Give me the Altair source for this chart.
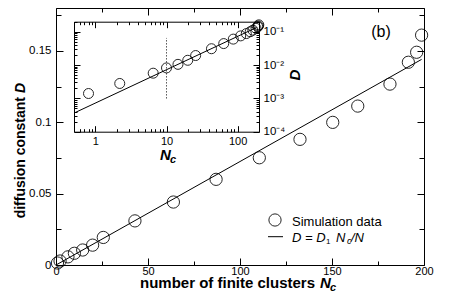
import altair as alt
import pandas as pd

# ---- data ----
nc = [0.8, 2.2, 6.5, 10, 14.5, 19.9, 25.7, 42.9, 63.8, 87, 110.5, 132.6,
      150.4, 164, 181.5, 191.5, 196, 198.7]
dc = [0.0014, 0.0028, 0.0057, 0.0082, 0.0105, 0.0139, 0.0193, 0.0309, 0.0441,
      0.060, 0.0751, 0.088, 0.0999, 0.1113, 0.1267, 0.142, 0.149, 0.161]
fit_nc_main = [0, 198.7]
fit_d_main = [0, 0.144]
fit_nc_inset = [0.5, 185]
fit_d_inset = [0.000362, 0.134]
guide_nc = [10, 10]
guide_d = [0.001, 0.065]

x_major = [0, 50, 100, 150, 200]
x_all = [0, 25, 50, 75, 100, 125, 150, 175, 200]
y_major = [0, 0.05, 0.1, 0.15]
y_all = [0, 0.025, 0.05, 0.075, 0.1, 0.125, 0.15, 0.175]
ix_major = [1, 10, 100]
ix_all = [0.5, 0.6, 0.7, 0.8, 0.9] + [m * 10 ** p for p in (0, 1) for m in range(1, 10)] + [100, 200]
iy_major = [1e-4, 1e-3, 1e-2, 1e-1]
iy_all = [m * 10 ** p for p in (-4, -3, -2) for m in range(1, 10)] + [0.1, 0.2]

FONT = "Liberation Sans"
W, H = 368, 257
IX0, IX1 = 18, 203
IY0, IY1 = 13.7, 123.7

pts = pd.DataFrame({"nc": nc, "D": dc})
fit_main = pd.DataFrame({"nc": fit_nc_main, "D": fit_d_main})
fit_inset = pd.DataFrame({"nc": fit_nc_inset, "D": fit_d_inset})
guide = pd.DataFrame({"nc": guide_nc, "D": guide_d})
one = pd.DataFrame({"a": [0]})

LIN_X_TEST = "datum.value % 50 == 0"
LIN_Y_TEST = "abs(datum.value*20 - round(datum.value*20)) < 0.01"
LOG_TEST = "abs(log(datum.value)/LN10 - round(log(datum.value)/LN10)) < 0.001"


def tick_axis(orient, offset, values, test, major, minor):
    return alt.Axis(orient=orient, offset=offset, values=values, labels=False,
                    title=None, grid=False, domain=True, domainColor="black",
                    domainWidth=1, ticks=True, tickColor="black", tickWidth=1,
                    tickSize={"condition": {"test": test, "value": major}, "value": minor})


def label_axis(orient, offset, values, pad, size=11.5, fmt=None, expr=None):
    kw = dict(orient=orient, offset=offset, values=values, ticks=False, tickSize=0,
              domain=False, grid=False, title=None, labelFont=FONT,
              labelFontSize=size, labelColor="black", labelPadding=pad,
              labelFlush=False, labelOverlap=False)
    if fmt is not None:
        kw["format"] = fmt
    if expr is not None:
        kw["labelExpr"] = expr
    return alt.Axis(**kw)


def mx(axis):
    return alt.X("nc:Q", scale=alt.Scale(domain=[0, 200], nice=False, zero=False), axis=axis)


def my(axis):
    return alt.Y("D:Q", scale=alt.Scale(domain=[0, 0.18], nice=False, zero=False), axis=axis)


def ix(axis):
    return alt.X("nc:Q", scale=alt.Scale(type="log", domain=[0.5, 200], range=[IX0, IX1], nice=False), axis=axis)


def iy(axis):
    return alt.Y("D:Q", scale=alt.Scale(type="log", domain=[1e-4, 0.2], range=[IY1, IY0], nice=False), axis=axis)


# ---- main plot ----
main_pts = alt.Chart(pts).mark_point(shape="circle", size=150, filled=False, color="black",
                                     strokeWidth=1, opacity=0.85).encode(
    x=mx(label_axis("bottom", 0, x_major, 0, size=11, fmt="d")),
    y=my(label_axis("left", 0, y_major, 5, fmt="~g")),
)
main_line = alt.Chart(fit_main).mark_line(color="black", strokeWidth=1).encode(x="nc:Q", y="D:Q")
M = alt.layer(main_pts, main_line)

A = alt.Chart(pts).mark_point(opacity=0).encode(
    x=mx(tick_axis("top", -H, x_all, LIN_X_TEST, 7, 4)),
    y=my(tick_axis("right", -W, y_all, LIN_Y_TEST, 7, 5)),
)
B = alt.Chart(pts).mark_point(opacity=0).encode(
    x=mx(tick_axis("bottom", -H, x_all, LIN_X_TEST, 7, 4)),
    y=my(tick_axis("left", -W, y_all, LIN_Y_TEST, 7, 5)),
)

# ---- inset ----
E = "round(log(datum.value)/LN10)"
ylab = f"({E}==-4)?'10⁻⁴':({E}==-3)?'10⁻³':({E}==-2)?'10⁻²':'10⁻¹'"
in_pts = alt.Chart(pts).mark_point(shape="circle", size=100, filled=False, color="black",
                                   strokeWidth=1, opacity=0.85).encode(
    x=ix(label_axis("bottom", IY1 - H, ix_major, 4, size=11, fmt="~g")),
    y=iy(label_axis("right", IX1 - W, iy_major, 4, size=11.5, expr=ylab)),
)
in_line = alt.Chart(fit_inset).mark_line(color="black", strokeWidth=1).encode(x="nc:Q", y="D:Q")
in_guide = alt.Chart(guide).mark_line(color="black", strokeWidth=1, strokeDash=[1, 2]).encode(x="nc:Q", y="D:Q")
I = alt.layer(in_pts, in_line, in_guide)

C = alt.Chart(pts).mark_point(opacity=0).encode(
    x=ix(tick_axis("top", -IY1, ix_all, LOG_TEST, 6, 3)),
    y=iy(tick_axis("right", IX0 - W, iy_all, LOG_TEST, 6, 3)),
)
Dg = alt.Chart(pts).mark_point(opacity=0).encode(
    x=ix(tick_axis("bottom", IY0 - H, ix_all, LOG_TEST, 6, 3)),
    y=iy(tick_axis("left", -IX1, iy_all, LOG_TEST, 6, 3)),
)


# ---- texts ----
def txt(s, x, y, size, weight="normal", style="normal", align="left", baseline="alphabetic", angle=0):
    kw = dict(text=s, font=FONT, fontSize=size, fontWeight=weight, fontStyle=style,
              align=align, baseline=baseline, color="black")
    if angle:
        kw["angle"] = angle
    return alt.Chart(one).mark_text(**kw).encode(x=alt.value(x), y=alt.value(y))


texts = [
    txt("(b)", 325, 24, 16, align="center", baseline="middle"),
    # main y title
    txt("diffusion constant", -31, 89, 14, weight="bold", align="right", angle=270),
    txt("D", -31, 85, 14, weight="bold", style="italic", align="left", angle=270),
    # main x title
    txt("number of finite clusters", 84, 280, 15, weight="bold"),
    txt("N", 264, 280, 15, weight="bold", style="italic"),
    txt("c", 274, 282.5, 11, weight="bold", style="italic"),
    # inset titles
    txt("N", 104, 152, 15, weight="bold", style="italic"),
    txt("c", 114, 154.5, 11, weight="bold", style="italic"),
    txt("D", 244, 67, 15, weight="bold", style="italic", align="center", angle=270),
    # legend
    txt("Simulation data", 236, 218, 13),
    txt("D = D", 236, 233.7, 13, style="italic"),
    txt("1", 270, 236, 8),
    txt("N", 280, 233.7, 13, style="italic"),
    txt("c", 291, 236, 9, style="italic"),
    txt("/N", 295, 233.7, 13, style="italic"),
]
leg_sym = alt.Chart(one).mark_point(shape="circle", size=150, filled=False, color="black",
                                    strokeWidth=1, opacity=0.85).encode(x=alt.value(219), y=alt.value(212))
leg_line = alt.Chart(one).mark_rule(color="black", strokeWidth=1).encode(
    x=alt.value(212), x2=alt.value(227), y=alt.value(228.7))

chart = alt.layer(M, A, B, I, C, Dg, leg_sym, leg_line, *texts).resolve_scale(
    x="independent", y="independent"
).properties(
    width=W, height=H, autosize="none",
    padding={"left": 48, "top": 0, "right": 39, "bottom": 28},
).configure_view(stroke=None).configure(background="white")

chart.save("out.html", embed_options={"renderer": "svg", "actions": False})
